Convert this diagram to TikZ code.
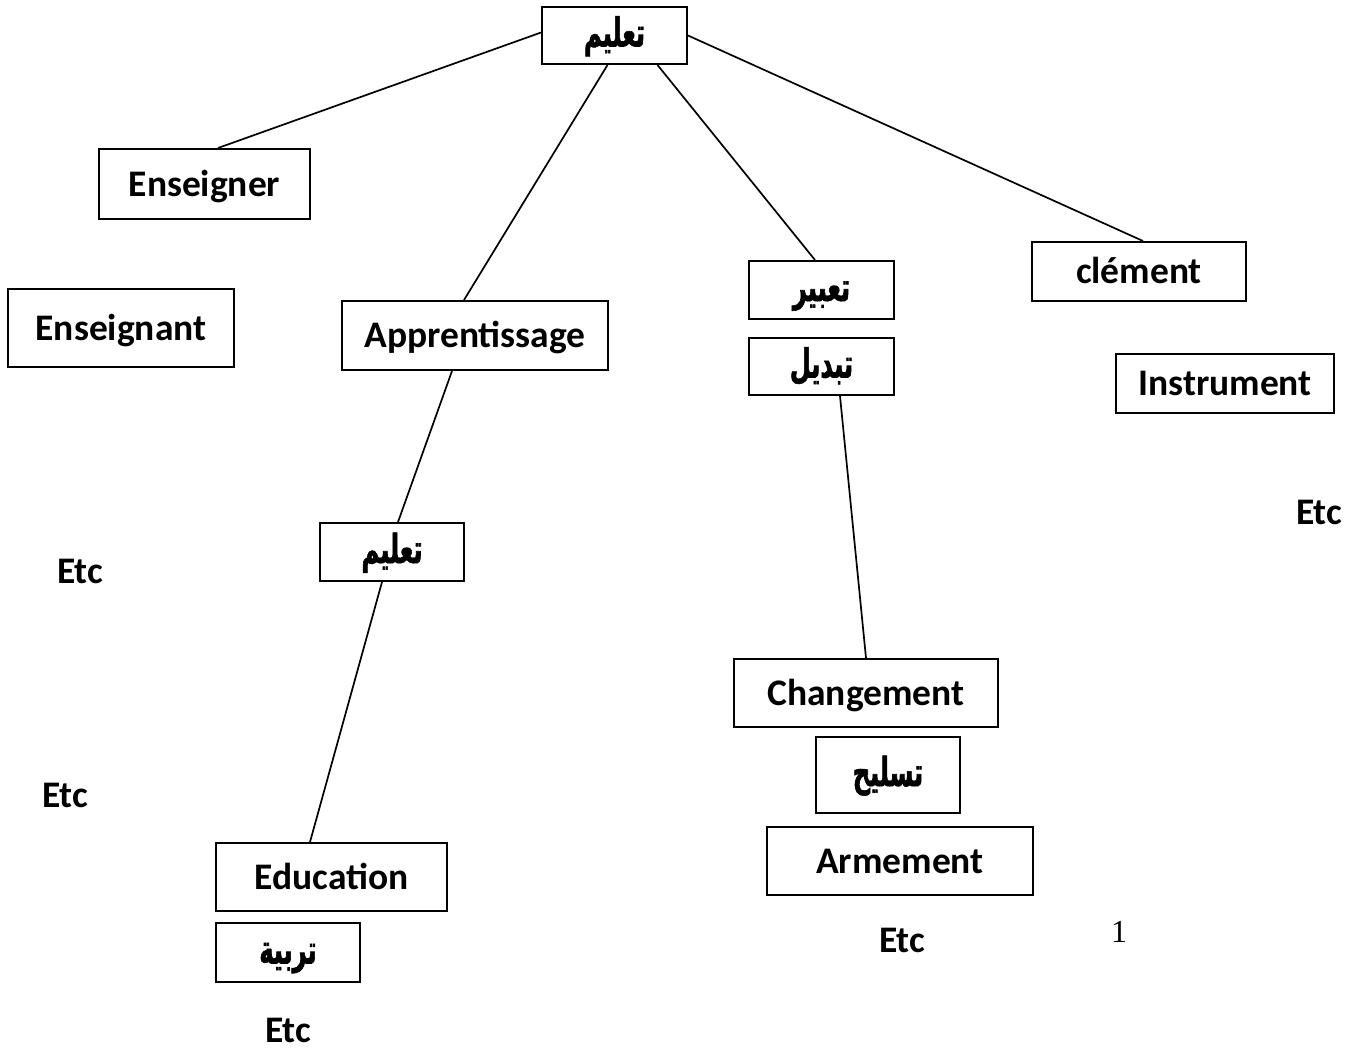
\documentclass[tikz,border=0pt]{standalone}
\usepackage{fontspec}
\setmainfont{Carlito}
\newfontfamily\arabicfont[Script=Arabic, FakeStretch=0.6, FakeBold=1.5]{DejaVu Sans}
\newfontfamily\numfont{Liberation Serif}
\TeXXeTstate=1
\begin{document}
\begin{tikzpicture}[x=1pt,y=-1pt,
  latin/.style={font=\fontsize{37.5}{42}\selectfont\bfseries, text height=24pt, text depth=0pt},
  box/.style={draw, line width=2pt, inner sep=0pt, latin},
  arbox/.style={draw, line width=2pt, inner sep=0pt,
    font=\fontsize{40}{46}\selectfont\arabicfont\bfseries, text height=22pt, text depth=0pt},
  etc/.style={inner sep=0pt, latin},
  link/.style={line width=1.7pt}]
\useasboundingbox (0,0) rectangle (1355,1050);

% root word
\node[arbox, minimum width=145pt, minimum height=57pt] (top) at (614.5,35.5) {\beginR تعليم\endR};

% first branch: French renderings
\node[box, minimum width=211pt, minimum height=70pt] (ens1) at (204.5,184) {Enseigner};
\node[box, minimum width=226pt, minimum height=78pt] (ens2) at (121,328) {Enseignant};
\node[etc] (etc1) at (80,571) {Etc};
\node[etc] (etc2) at (65,795) {Etc};

% second branch
\node[box, minimum width=266pt, minimum height=69pt] (app) at (475,335.5) {Apprentissage};
\node[arbox, minimum width=144pt, minimum height=58pt] (mid) at (392,552) {\beginR تعليم\endR};
\node[box, minimum width=231pt, minimum height=68pt] (edu) at (331.5,877) {Education};
\node[arbox, minimum width=144pt, minimum height=59pt] (tarb) at (288,952.5) {\beginR تربية\endR};
\node[etc] (etc3) at (288,1030) {Etc};

% third branch
\node[arbox, minimum width=145pt, minimum height=58pt] (tabir) at (821.5,290) {\beginR تعبير\endR};
\node[arbox, minimum width=145pt, minimum height=57pt] (tabdil) at (821.5,366.5) {\beginR تبديل\endR};
\node[box, minimum width=264pt, minimum height=68pt] (chang) at (866,693) {Changement};
\node[arbox, minimum width=144pt, minimum height=76pt] (tasl) at (888,775) {\beginR تسليح\endR};
\node[box, minimum width=266pt, minimum height=68pt] (arm) at (900,861) {Armement};
\node[etc] (etc4) at (902,940) {Etc};

% fourth branch
\node[box, minimum width=214pt, minimum height=59pt] (clem) at (1139,271.5) {clément};
\node[box, minimum width=218pt, minimum height=59pt] (instr) at (1225,383.5) {Instrument};
\node[etc] (etc5) at (1319,512) {Etc};

% page number
\node[inner sep=0pt, font=\fontsize{32}{36}\selectfont\numfont] (pg) at (1119,932) {1};

% connectors
\draw[link] ([yshift=3pt]top.west) -- ([xshift=13.5pt]ens1.north);
\draw[link] ([xshift=-7pt]top.south) -- ([xshift=-11pt]app.north);
\draw[link] ([xshift=43pt]top.south) -- ([xshift=-6.5pt]tabir.north);
\draw[link] (top.east) -- ([xshift=4pt]clem.north);
\draw[link] ([xshift=-23pt]app.south) -- ([xshift=6pt]mid.north);
\draw[link] ([xshift=-10pt]mid.south) -- ([xshift=-21.5pt]edu.north);
\draw[link] ([xshift=18.5pt]tabdil.south) -- (chang.north);
\end{tikzpicture}
\end{document}
